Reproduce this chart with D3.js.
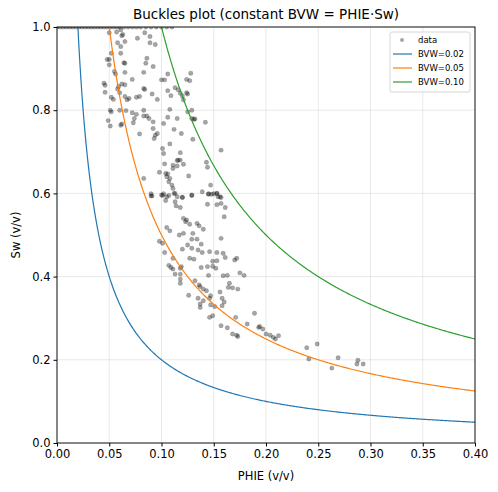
<!DOCTYPE html>
<html lang="en">
<head>
<meta charset="UTF-8">
<title>Buckles plot</title>
<script src="https://cdn.jsdelivr.net/npm/d3@7"></script>
<style>
  body { margin: 0; background: #fff; }
  text { font-family: "DejaVu Sans", sans-serif; }
</style>
</head>
<body>
<svg id="chart" width="498" height="492"></svg>
<script>
// samples [PHIE, Sw]
const dataPoints = [
  [0.090,0.594],[0.101,0.595],[0.107,0.595],[0.112,0.600],[0.120,0.590],[0.129,0.595],[0.104,0.583],[0.113,0.580],
  [0.114,0.570],[0.118,0.566],[0.144,0.574],[0.145,0.598],[0.148,0.598],[0.153,0.600],[0.156,0.592],[0.153,0.573],
  [0.157,0.576],[0.161,0.566],[0.160,0.544],[0.121,0.540],[0.124,0.536],[0.123,0.532],[0.127,0.526],[0.134,0.528],
  [0.136,0.522],[0.140,0.514],[0.105,0.518],[0.108,0.510],[0.117,0.500],[0.121,0.504],[0.130,0.504],[0.134,0.490],
  [0.129,0.490],[0.157,0.492],[0.098,0.485],[0.101,0.480],[0.103,0.458],[0.120,0.466],[0.125,0.476],[0.129,0.468],
  [0.135,0.464],[0.138,0.478],[0.139,0.458],[0.146,0.460],[0.153,0.458],[0.159,0.456],[0.161,0.446],[0.127,0.444],
  [0.131,0.442],[0.111,0.444],[0.149,0.437],[0.153,0.438],[0.170,0.440],[0.172,0.444],[0.107,0.427],[0.109,0.422],
  [0.111,0.418],[0.118,0.420],[0.119,0.424],[0.113,0.406],[0.118,0.406],[0.138,0.422],[0.144,0.424],[0.149,0.425],
  [0.152,0.420],[0.145,0.403],[0.159,0.402],[0.163,0.403],[0.175,0.409],[0.179,0.403],[0.118,0.394],[0.118,0.384],
  [0.132,0.390],[0.136,0.380],[0.137,0.376],[0.140,0.370],[0.143,0.366],[0.147,0.354],[0.146,0.348],[0.156,0.363],
  [0.165,0.384],[0.164,0.374],[0.168,0.373],[0.173,0.370],[0.126,0.355],[0.135,0.348],[0.140,0.342],[0.137,0.334],
  [0.137,0.326],[0.147,0.332],[0.151,0.328],[0.158,0.348],[0.160,0.339],[0.158,0.330],[0.146,0.302],[0.149,0.306],
  [0.171,0.302],[0.182,0.286],[0.189,0.312],[0.193,0.278],[0.197,0.274],[0.194,0.280],[0.200,0.262],[0.204,0.259],
  [0.207,0.254],[0.209,0.250],[0.212,0.258],[0.157,0.282],[0.163,0.277],[0.168,0.262],[0.172,0.259],[0.173,0.256],
  [0.239,0.229],[0.249,0.238],[0.241,0.202],[0.269,0.205],[0.263,0.180],[0.288,0.199],[0.287,0.190],[0.293,0.190],
  [0.050,0.986],[0.057,0.988],[0.061,0.993],[0.063,0.982],[0.062,0.979],[0.077,0.973],[0.084,0.986],[0.089,0.977],
  [0.094,0.958],[0.089,0.962],[0.058,0.962],[0.065,0.965],[0.061,0.953],[0.052,0.937],[0.048,0.922],[0.050,0.922],
  [0.050,0.909],[0.064,0.914],[0.065,0.913],[0.061,0.937],[0.086,0.925],[0.085,0.913],[0.092,0.905],[0.083,0.891],
  [0.065,0.891],[0.055,0.893],[0.056,0.887],[0.072,0.874],[0.045,0.865],[0.046,0.860],[0.046,0.843],[0.058,0.851],
  [0.060,0.842],[0.062,0.863],[0.065,0.861],[0.059,0.857],[0.052,0.831],[0.054,0.826],[0.065,0.833],[0.069,0.828],
  [0.067,0.825],[0.076,0.831],[0.079,0.833],[0.083,0.852],[0.084,0.850],[0.091,0.839],[0.096,0.826],[0.100,0.873],
  [0.103,0.873],[0.106,0.847],[0.109,0.835],[0.113,0.854],[0.116,0.849],[0.118,0.841],[0.121,0.825],[0.120,0.834],
  [0.124,0.842],[0.125,0.839],[0.124,0.874],[0.127,0.871],[0.128,0.889],[0.106,0.887],[0.051,0.800],[0.052,0.796],
  [0.060,0.800],[0.066,0.799],[0.072,0.794],[0.076,0.790],[0.074,0.780],[0.073,0.770],[0.083,0.800],[0.083,0.786],
  [0.086,0.786],[0.088,0.780],[0.092,0.772],[0.092,0.756],[0.096,0.744],[0.094,0.740],[0.093,0.732],[0.079,0.743],
  [0.102,0.768],[0.106,0.783],[0.115,0.780],[0.108,0.802],[0.125,0.796],[0.129,0.800],[0.129,0.780],[0.131,0.778],
  [0.132,0.779],[0.142,0.771],[0.112,0.754],[0.119,0.744],[0.130,0.730],[0.049,0.775],[0.051,0.762],[0.062,0.767],
  [0.061,0.764],[0.101,0.708],[0.102,0.696],[0.108,0.719],[0.118,0.698],[0.103,0.671],[0.104,0.648],[0.106,0.647],
  [0.105,0.640],[0.108,0.636],[0.111,0.660],[0.111,0.668],[0.115,0.679],[0.116,0.680],[0.118,0.680],[0.121,0.670],
  [0.115,0.666],[0.126,0.642],[0.143,0.675],[0.144,0.663],[0.157,0.704],[0.083,0.636],[0.098,0.651],[0.107,0.628],
  [0.110,0.620],[0.111,0.612],[0.113,0.600],[0.115,0.592],[0.090,0.599],[0.091,0.594],[0.100,0.596],[0.102,0.599],
  [0.129,0.596],[0.139,0.604],[0.147,0.620],[0.145,0.599],[0.150,0.599],[0.153,0.600],[0.154,0.592],[0.157,0.590],
  [0.120,0.591],[0.105,0.592],
  [0.000,1],[0.003,1],[0.006,1],[0.009,1],[0.012,1],[0.015,1],[0.018,1],[0.021,1],[0.024,1],[0.027,1],[0.030,1],
  [0.033,1],[0.036,1],[0.039,1],[0.042,1],[0.045,1],[0.048,1],[0.051,1],[0.054,1],[0.057,1],[0.060,1],[0.064,1],
  [0.068,1],[0.072,1],[0.076,1],[0.080,1],[0.085,1],[0.090,1],[0.095,1],[0.100,1],[0.105,1],[0.110,1]
];
const bvwValues = [0.02, 0.05, 0.10];
const bvwColors = ["#1f77b4", "#ff7f0e", "#2ca02c"];
const xTicks = [0, 0.05, 0.10, 0.15, 0.20, 0.25, 0.30, 0.35, 0.40];
const yTicks = [0, 0.2, 0.4, 0.6, 0.8, 1.0];

const svg = d3.select("#chart");
const m = {left: 57, right: 23, top: 27, bottom: 49};
const W = 498, H = 492;
const x = d3.scaleLinear().domain([0, 0.4]).range([m.left, W - m.right]);
const y = d3.scaleLinear().domain([0, 1]).range([H - m.bottom, m.top]);

svg.append("defs").append("clipPath").attr("id", "clip")
  .append("rect").attr("x", m.left).attr("y", m.top)
  .attr("width", W - m.left - m.right).attr("height", H - m.top - m.bottom);

// grid
svg.append("g").selectAll("line").data(xTicks).join("line")
  .attr("x1", d => x(d)).attr("x2", d => x(d)).attr("y1", m.top).attr("y2", H - m.bottom)
  .attr("stroke", "#b0b0b0").attr("stroke-opacity", 0.35).attr("stroke-width", 0.8);
svg.append("g").selectAll("line").data(yTicks).join("line")
  .attr("y1", d => y(d)).attr("y2", d => y(d)).attr("x1", m.left).attr("x2", W - m.right)
  .attr("stroke", "#b0b0b0").attr("stroke-opacity", 0.35).attr("stroke-width", 0.8);

const plot = svg.append("g").attr("clip-path", "url(#clip)");

plot.selectAll("circle").data(dataPoints).join("circle")
  .attr("cx", d => x(d[0])).attr("cy", d => y(d[1])).attr("r", 2.2)
  .attr("fill", "#000").attr("fill-opacity", 0.35)
  .attr("stroke", "#000").attr("stroke-opacity", 0.25).attr("stroke-width", 0.5);

const line = d3.line().x(d => x(d[0])).y(d => y(d[1]));
bvwValues.forEach((b, i) => {
  const pts = d3.range(b, 0.4001, 0.001).map(p => [p, b / p]);
  plot.append("path").attr("d", line(pts)).attr("fill", "none")
    .attr("stroke", bvwColors[i]).attr("stroke-width", 1.2);
});

// axes
const xAxis = svg.append("g").attr("transform", `translate(0,${H - m.bottom})`)
  .call(d3.axisBottom(x).tickValues(xTicks).tickFormat(d3.format(".2f")).tickSizeOuter(0).tickSize(3.5).tickPadding(3));
const yAxis = svg.append("g").attr("transform", `translate(${m.left},0)`)
  .call(d3.axisLeft(y).tickValues(yTicks).tickFormat(d3.format(".1f")).tickSizeOuter(0).tickSize(3.5).tickPadding(3));
[xAxis, yAxis].forEach(a => {
  a.selectAll("text").attr("font-size", 11.5).attr("fill", "#000").style("font-family", "DejaVu Sans");
  a.select(".domain").remove();
});
svg.append("rect").attr("x", m.left).attr("y", m.top)
  .attr("width", W - m.left - m.right).attr("height", H - m.top - m.bottom)
  .attr("fill", "none").attr("stroke", "#000").attr("stroke-width", 0.9);

svg.append("text").attr("x", (m.left + W - m.right) / 2).attr("y", 19)
  .attr("text-anchor", "middle").attr("font-size", 13.5).text("Buckles plot (constant BVW = PHIE·Sw)");
svg.append("text").attr("x", (m.left + W - m.right) / 2).attr("y", 480)
  .attr("text-anchor", "middle").attr("font-size", 11.5).text("PHIE (v/v)");
svg.append("text").attr("transform", `translate(20,${(m.top + H - m.bottom) / 2}) rotate(-90)`)
  .attr("text-anchor", "middle").attr("font-size", 11.5).text("Sw (v/v)");

// legend
const lg = svg.append("g").attr("transform", "translate(390,32)");
lg.append("rect").attr("width", 80).attr("height", 60).attr("rx", 2)
  .attr("fill", "#fff").attr("fill-opacity", 0.8).attr("stroke", "#ccc").attr("stroke-width", 0.8);
lg.append("circle").attr("cx", 12).attr("cy", 8).attr("r", 2)
  .attr("fill", "#000").attr("fill-opacity", 0.35);
lg.append("text").attr("x", 28).attr("y", 11).attr("font-size", 8.5).text("data");
bvwValues.forEach((b, i) => {
  const yy = 22 + i * 14;
  lg.append("line").attr("x1", 3).attr("x2", 22).attr("y1", yy).attr("y2", yy)
    .attr("stroke", bvwColors[i]).attr("stroke-width", 1.2);
  lg.append("text").attr("x", 28).attr("y", yy + 3).attr("font-size", 8.5).text("BVW=" + b.toFixed(2));
});
</script>
</body>
</html>
